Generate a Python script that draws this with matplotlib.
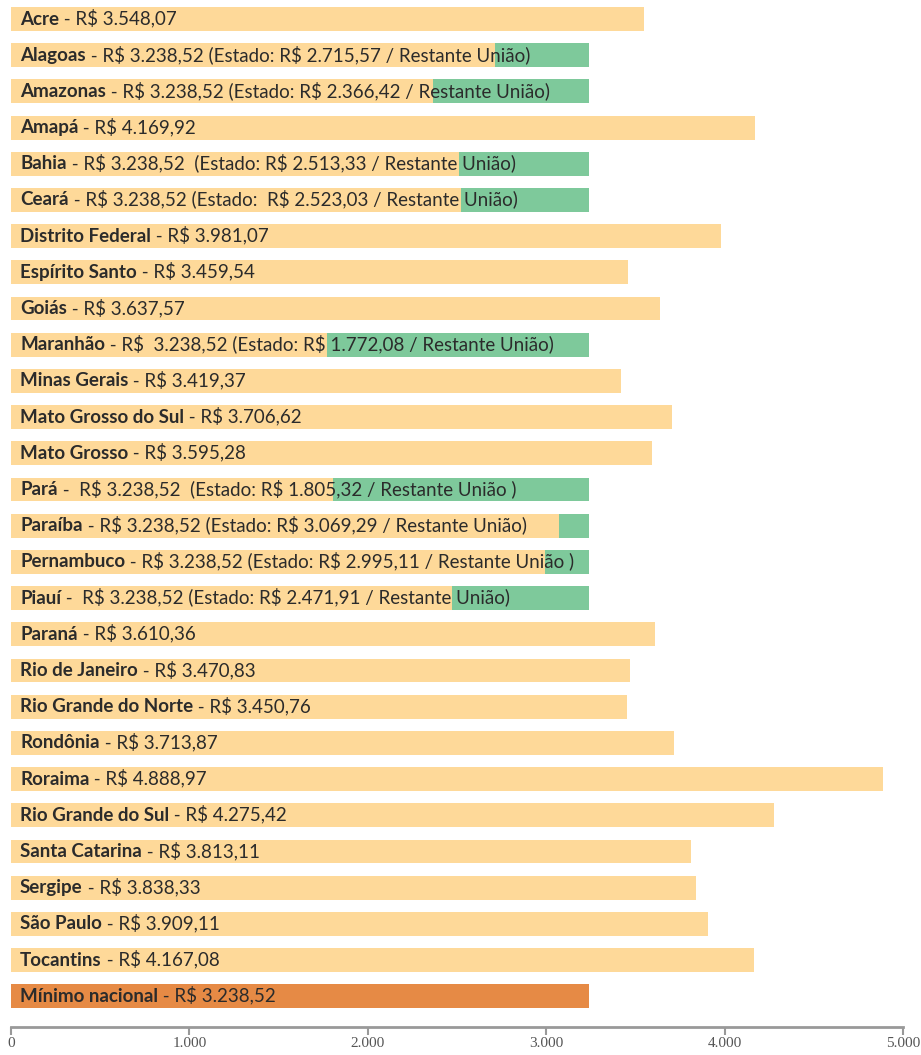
import matplotlib.pyplot as plt

plt.rcParams['font.family'] = ['Lato', 'DejaVu Sans']
plt.rcParams['text.parse_math'] = False

# state names (bold part) and the rest of each label
states = ['Acre', 'Alagoas', 'Amazonas', 'Amapá', 'Bahia', 'Ceará', 'Distrito Federal',
          'Espírito Santo', 'Goiás', 'Maranhão', 'Minas Gerais', 'Mato Grosso do Sul',
          'Mato Grosso', 'Pará', 'Paraíba', 'Pernambuco', 'Piauí', 'Paraná',
          'Rio de Janeiro', 'Rio Grande do Norte', 'Rondônia', 'Roraima',
          'Rio Grande do Sul', 'Santa Catarina', 'Sergipe', 'São Paulo', 'Tocantins',
          'Mínimo nacional']
rest = [' - R$ 3.548,07',
        ' - R$ 3.238,52 (Estado: R$ 2.715,57 / Restante União)',
        ' - R$ 3.238,52 (Estado: R$ 2.366,42 / Restante União)',
        ' - R$ 4.169,92',
        ' - R$ 3.238,52  (Estado: R$ 2.513,33 / Restante União)',
        ' - R$ 3.238,52 (Estado:  R$ 2.523,03 / Restante União)',
        ' - R$ 3.981,07',
        ' - R$ 3.459,54',
        ' - R$ 3.637,57',
        ' - R$  3.238,52 (Estado: R$ 1.772,08 / Restante União)',
        ' - R$ 3.419,37',
        ' - R$ 3.706,62',
        ' - R$ 3.595,28',
        ' -  R$ 3.238,52  (Estado: R$ 1.805,32 / Restante União )',
        ' - R$ 3.238,52 (Estado: R$ 3.069,29 / Restante União)',
        ' - R$ 3.238,52 (Estado: R$ 2.995,11 / Restante União )',
        ' -  R$ 3.238,52 (Estado: R$ 2.471,91 / Restante União)',
        ' - R$ 3.610,36',
        ' - R$ 3.470,83',
        ' - R$ 3.450,76',
        ' - R$ 3.713,87',
        ' - R$ 4.888,97',
        ' - R$ 4.275,42',
        ' - R$ 3.813,11',
        ' - R$ 3.838,33',
        ' - R$ 3.909,11',
        ' - R$ 4.167,08',
        ' - R$ 3.238,52']
totals = [3548.07, 3238.52, 3238.52, 4169.92, 3238.52, 3238.52, 3981.07, 3459.54,
          3637.57, 3238.52, 3419.37, 3706.62, 3595.28, 3238.52, 3238.52, 3238.52,
          3238.52, 3610.36, 3470.83, 3450.76, 3713.87, 4888.97, 4275.42, 3813.11,
          3838.33, 3909.11, 4167.08, 3238.52]
# state share where the Union pays the rest (None = state pays everything)
estado = [None, 2715.57, 2366.42, None, 2513.33, 2523.03, None, None, None, 1772.08,
          None, None, None, 1805.32, 3069.29, 2995.11, 2471.91, None, None, None,
          None, None, None, None, None, None, None, None]

ticks = [0, 1000, 2000, 3000, 4000, 5000]
tick_labels = ['0', '1.000', '2.000', '3.000', '4.000', '5.000']

light = '#FED999'
green = '#7EC99B'
dark = '#E68A45'
txt = '#2b2b2b'

fig = plt.figure(figsize=(9.21, 10.55), dpi=100)
ax = fig.add_axes([11 / 921, 1 - 1027 / 1055, 892 / 921, 1027 / 1055])

n = len(states)
for i in range(n):
    if i == n - 1:
        ax.barh(i, totals[i], height=0.66, color=dark, zorder=1)
    elif estado[i] is None:
        ax.barh(i, totals[i], height=0.66, color=light, zorder=1)
    else:
        ax.barh(i, estado[i], height=0.66, color=light, zorder=1)
        ax.barh(i, totals[i] - estado[i], left=estado[i], height=0.66, color=green, zorder=1)

    t = ax.annotate(states[i], xy=(0, i), xytext=(6.5, 0), textcoords='offset points',
                    fontsize=13.5, fontweight='bold', color=txt, va='center', ha='left', zorder=3)
    ax.annotate(rest[i], xy=(1, 0), xycoords=t, fontsize=13.5, color=txt,
                va='bottom', ha='left', zorder=3)

ax.set_xlim(0, 5000)
ax.set_ylim(27.85, -0.525)
ax.set_yticks([])
ax.set_xticks(ticks)
ax.set_xticklabels(tick_labels, family='Liberation Serif', fontsize=11, color='#555555')
ax.tick_params(axis='x', direction='out', length=6, width=1.5, color='#999999', pad=1)
for s in ['top', 'right', 'left']:
    ax.spines[s].set_visible(False)
ax.spines['bottom'].set_color('#999999')
ax.spines['bottom'].set_linewidth(2)

fig.savefig('out.png', dpi=100)
